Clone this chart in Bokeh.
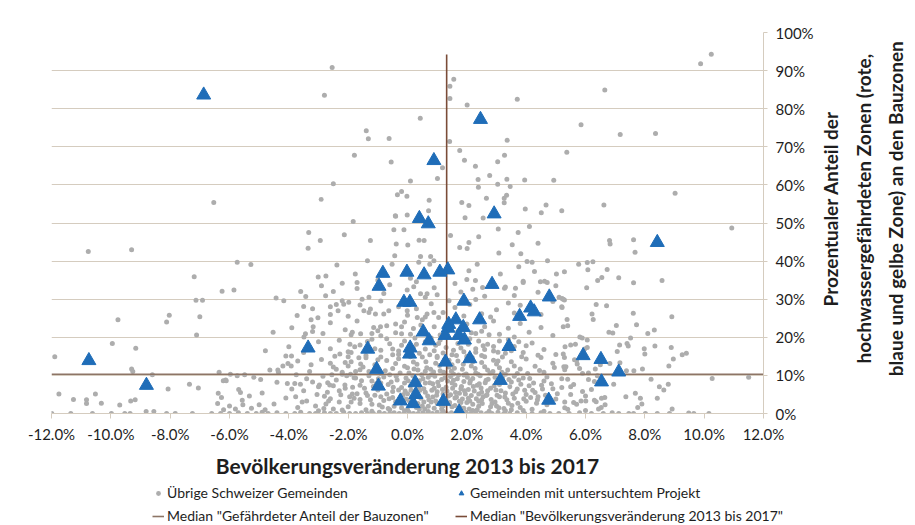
import math
from bokeh.plotting import figure
from bokeh.layouts import column, row
from bokeh.models import ColumnDataSource, Range1d, PrintfTickFormatter, FixedTicker, Legend, LegendItem, Label
from bokeh.embed import file_html
from bokeh.resources import INLINE

# ---------------- data (percent units) ----------------
x_ticks = [-12, -10, -8, -6, -4, -2, 0, 2, 4, 6, 8, 10, 12]
y_ticks = [0, 10, 20, 30, 40, 50, 60, 70, 80, 90, 100]

median_share = 10.3        # Median "Gefährdeter Anteil der Bauzonen"
median_pop = 1.32          # Median "Bevölkerungsveränderung 2013 bis 2017"
median_pop_top = 94.2

y_title_lines = ["Prozentualer Anteil der",
                 "hochwassergefährdeten Zonen (rote,",
                 "blaue und gelbe Zone) an den Bauzonen"]

# Gemeinden mit untersuchtem Projekt (x = Bevölkerungsveränderung, y = Anteil)
proj = [(-6.87, 83.6), (0.89, 66.4), (2.46, 77.2), (0.40, 51.2), (0.70, 49.8), (2.92, 52.4), (8.42, 44.9),
        (-0.83, 36.8), (-0.02, 37.1), (0.56, 36.4), (1.09, 37.1), (1.36, 37.7), (-0.96, 33.4), (2.85, 33.9),
        (-0.12, 29.2), (0.08, 29.2), (1.90, 29.5), (4.78, 30.6), (4.15, 27.7), (4.27, 26.7), (3.78, 25.5),
        (2.43, 24.6), (1.63, 24.6), (1.39, 23.4), (1.37, 22.4), (1.88, 22.6), (0.53, 21.4), (1.27, 20.5),
        (1.73, 20.5), (1.92, 19.3), (0.73, 19.1), (3.42, 17.6), (0.09, 17.2), (0.07, 15.6), (-1.34, 16.9),
        (-3.35, 17.2), (-10.74, 13.9), (-8.8, 7.4), (-1.04, 11.6), (-0.98, 7.2), (0.26, 8.1), (0.28, 5.0),
        (-0.24, 3.3), (0.19, 2.6), (2.10, 14.4), (1.28, 13.5), (5.92, 15.2), (6.52, 14.2), (7.12, 10.9),
        (3.13, 8.7), (6.54, 8.3), (4.76, 3.5), (1.21, 3.2), (1.74, 0.4)]

# Übrige Schweizer Gemeinden, grouped by region of the chart
grey_top = [(-2.54, 90.8), (-2.80, 83.5), (0.43, 77.5), (-1.39, 74.2), (-1.32, 72.1), (-0.62, 72.2), (-1.79, 67.8),
            (-0.55, 66.0), (0.10, 61.0), (1.01, 61.7), (-2.50, 60.3), (-0.34, 57.4), (-0.20, 58.3), (-0.02, 57.0),
            (-2.91, 56.2), (-6.53, 55.4), (0.73, 56.0), (0.71, 53.2), (-0.40, 51.8), (-0.01, 52.1),
            (10.24, 94.3), (9.88, 91.8), (6.65, 84.9), (1.56, 87.7), (1.43, 85.9), (1.43, 82.7), (3.70, 82.5),
            (2.01, 81.0), (5.85, 75.8), (7.17, 73.2), (8.36, 73.5), (1.42, 71.4), (3.36, 71.7), (1.76, 69.0),
            (3.27, 67.8), (1.92, 66.5), (3.04, 66.1), (5.37, 68.6), (1.18, 64.5), (2.29, 64.9), (2.77, 62.5),
            (2.38, 61.4), (3.35, 61.5), (3.95, 61.3), (4.93, 61.2), (2.39, 59.4), (3.04, 60.2), (3.46, 59.6),
            (9.02, 57.8), (1.83, 55.4), (2.07, 54.6), (2.66, 56.5), (3.34, 57.3), (3.26, 56.5), (3.26, 55.3),
            (4.67, 54.7), (6.62, 54.7), (3.97, 53.7), (4.51, 52.7), (5.20, 53.2), (1.94, 51.4), (2.55, 51.3),
            (10.93, 48.7), (6.81, 45.4), (6.83, 44.5), (7.62, 45.6), (7.67, 42.3),
            (-3.33, 47.5), (-3.35, 43.4), (-2.94, 45.4), (-2.13, 46.9), (-1.83, 50.4), (-1.25, 45.4),
            (-0.46, 48.2), (-0.12, 48.2), (-0.38, 44.5), (0.01, 44.2), (-0.41, 51.9), (0.39, 45.5), (0.56, 45.4),
            (3.06, 48.4), (3.73, 47.5), (4.11, 49.1), (1.45, 46.7), (1.76, 43.6), (2.07, 44.9), (2.01, 43.3),
            (2.40, 46.4), (3.08, 42.1), (3.53, 44.3), (3.82, 41.9), (4.40, 44.7)]

grey_mid = [(-10.76, 42.5), (-9.30, 43.0), (-5.74, 39.7), (-5.28, 39.1), (-7.19, 35.9), (-6.25, 32.1), (-5.85, 32.4),
            (-7.13, 29.7), (-6.91, 29.7), (-4.43, 30.3), (-4.17, 29.6), (-3.43, 30.7), (-3.01, 35.8), (-2.75, 36.1),
            (-2.50, 32.0), (-2.76, 30.9), (-2.38, 39.0), (-1.35, 40.1), (-1.76, 36.6), (-1.70, 34.4), (-1.53, 30.0),
            (-1.30, 30.5), (-0.52, 39.2), (-0.43, 41.4), (0.44, 41.2), (0.78, 41.2), (0.38, 39.7), (0.75, 39.2),
            (0.89, 40.1), (0.21, 33.3), (-0.01, 32.4), (0.44, 31.4), (0.66, 31.4),
            (5.77, 39.2), (6.06, 39.6), (6.25, 39.8), (5.29, 37.2), (6.08, 37.7), (6.73, 37.8), (6.55, 35.7),
            (6.41, 34.9), (7.12, 35.6), (7.62, 34.3), (8.58, 34.9), (6.04, 33.0), (5.21, 30.2), (5.29, 29.8),
            (4.72, 40.1), (4.03, 39.9), (4.20, 39.7), (3.75, 38.5), (4.28, 37.3), (5.02, 36.6), (2.35, 39.2),
            (2.07, 37.5), (3.13, 36.6), (2.29, 34.9), (2.53, 33.1), (3.27, 32.9), (3.64, 32.9), (3.90, 34.7),
            (4.48, 34.6), (4.62, 34.7), (4.71, 34.4), (5.25, 30.0), (5.11, 30.5),
            (-2.9, 33.5), (-2.2, 34.2), (-1.7, 32.8), (-0.6, 33.8), (0.3, 34.6), (0.9, 33.0), (1.6, 34.1),
            (2.2, 32.6), (3.3, 33.2), (3.9, 34.4), (4.4, 31.8), (1.0, 31.2), (0.6, 30.5), (2.6, 30.8),
            (3.6, 31.0), (-0.8, 31.5), (-3.6, 32.0), (5.0, 33.5), (1.8, 31.9), (2.0, 35.2), (-1.0, 35.0),
            (0.1, 35.5), (-3.72, 25.7), (-3.50, 28.1), (-3.25, 24.6), (-3.02, 25.1), (-3.18, 22.8)]

grey_left = [(-9.76, 24.6), (-8.03, 25.8), (-8.12, 24.0), (-7.0, 25.4), (-7.11, 20.6), (-9.95, 18.4), (-9.16, 17.1),
             (-11.89, 14.9), (-9.30, 11.7), (-9.26, 11.0), (-8.60, 10.2), (-11.75, 5.1), (-11.26, 3.7), (-10.82, 3.6),
             (-10.82, 2.6), (-10.52, 5.1), (-10.32, 2.7), (-9.70, 2.2), (-9.33, 3.3), (-9.18, 3.6), (-8.07, 6.4),
             (-8.81, 0.5), (-8.55, 0.5), (-7.35, 7.7), (-7.05, 6.7), (-11.99, 0.0), (-11.35, 0.0), (-10.62, 0.0),
             (-9.98, 0.0), (-9.53, 0.0), (-9.35, 0.0), (-8.12, 0.0), (-7.83, 0.0), (-7.25, 0.0), (-6.35, 10.8),
             (-6.21, 8.6), (-6.11, 8.6), (-6.38, 5.3), (-6.27, 4.2), (-5.97, 10.3), (-5.74, 9.9), (-5.49, 10.2),
             (-5.69, 6.3), (-5.63, 5.5), (-5.57, 3.5), (-5.33, 4.6), (-5.18, 9.5), (-4.95, 8.9), (-4.90, 5.4),
             (-5.26, 1.4), (-4.79, 16.5), (-4.53, 21.3), (-4.64, 11.4), (-4.37, 11.4), (-4.35, 10.8), (-6.13, 8.8),
             (-6.6, 0.0), (-6.3, 0.0), (-6.0, 0.0), (-5.7, 0.2), (-5.4, 0.0), (-5.1, 0.0), (-4.9, 0.3), (-6.0, 2.0),
             (-5.8, 1.2), (-6.4, 2.6), (-5.0, 2.3), (-4.8, 1.0), (-6.2, 1.0), (-5.55, 2.3)]

grey_right = [(5.21, 27.8), (6.36, 28.6), (6.71, 28.3), (6.22, 26.1), (6.26, 24.7), (7.61, 26.3), (8.91, 25.4),
              (5.38, 24.7), (5.25, 22.8), (7.04, 23.1), (7.72, 23.3), (6.79, 21.3), (6.92, 21.1), (8.32, 21.9),
              (8.10, 21.0), (5.81, 20.1), (5.89, 19.8), (6.06, 19.3), (7.52, 19.8), (5.31, 17.5), (5.66, 18.2),
              (5.97, 16.9), (6.06, 17.3), (7.15, 18.0), (7.40, 18.4), (7.44, 17.7), (7.98, 17.0), (8.34, 17.7),
              (8.89, 17.3), (8.0, 15.6), (5.25, 15.6), (5.29, 14.7), (7.07, 16.3), (9.26, 15.4), (9.40, 15.8),
              (8.96, 14.3), (5.63, 14.1), (6.82, 13.1), (7.16, 13.3), (5.27, 12.3), (5.34, 12.3), (5.72, 13.0),
              (6.33, 11.7), (8.81, 12.5), (7.92, 11.7), (7.38, 11.2), (7.63, 11.2), (10.27, 9.2), (11.5, 9.5),
              (8.21, 9.0), (8.49, 7.0), (8.64, 6.2), (8.79, 7.7), (8.42, 4.0), (8.92, 1.2), (7.36, 4.4),
              (7.68, 5.3), (7.85, 4.0), (7.90, 2.5), (7.76, 1.6), (6.95, 7.7), (6.54, 4.0), (6.65, 4.2),
              (6.66, 2.3), (6.53, 1.6), (6.44, 1.2), (5.85, 3.3), (6.01, 3.3), (6.30, 3.5), (6.36, 3.1),
              (9.48, 0.1), (9.65, 0.0), (10.16, 0.0), (7.12, 0.0), (7.46, 0.0), (8.42, 0.0), (8.83, 0.0),
              (7.62, 0.0), (8.02, 0.0), (6.6, 0.0), (6.9, 0.2), (5.4, 9.0), (5.6, 7.6), (5.9, 10.5), (6.1, 8.9),
              (5.5, 5.0), (5.7, 2.4), (6.2, 6.3), (5.3, 3.0), (6.4, 9.9), (5.8, 11.8), (6.5, 12.8), (5.2, 6.8),
              (6.0, 0.8), (5.4, 1.1)]

grey_core_upper = [(-3.2, 27.5), (-2.6, 26.0), (-2.0, 25.5), (-1.6, 28.5), (-0.9, 29.5), (-0.3, 28.0), (0.3, 27.5),
                   (0.8, 28.8), (1.2, 26.5), (1.6, 27.8), (2.1, 28.6), (2.5, 26.2), (3.0, 27.2), (3.4, 29.0),
                   (3.8, 28.4), (4.5, 26.0), (5.2, 28.0), (2.8, 25.3), (0.0, 25.8), (-1.3, 26.5), (1.4, 29.6),
                   (2.3, 29.9), (3.6, 26.4), (4.9, 29.4), (-2.4, 28.6), (0.6, 25.3), (1.9, 25.6),
                   (-3.9, 22.5), (-3.2, 21.5), (-2.6, 23.8), (-2.1, 22.0), (-1.7, 24.3), (-1.2, 21.0), (-0.7, 23.0),
                   (-0.4, 21.2), (-0.1, 24.0), (0.2, 22.3), (0.5, 24.6), (0.9, 22.8), (1.1, 20.6), (1.5, 24.0),
                   (1.7, 21.6), (2.0, 23.5), (2.3, 21.0), (2.6, 22.8), (2.9, 24.3), (3.1, 20.8), (3.4, 22.4),
                   (3.8, 23.6), (4.1, 21.3), (4.5, 22.6), (4.9, 20.5), (5.4, 23.0), (0.7, 20.3), (-0.9, 20.4),
                   (1.3, 23.0), (2.4, 24.8), (-1.9, 20.7), (3.6, 20.1), (0.1, 20.8), (1.9, 20.1),
                   (-4.0, 17.5), (-3.5, 16.0), (-3.0, 18.8), (-2.6, 17.0), (-2.3, 19.2), (-2.0, 16.2), (-1.6, 18.0),
                   (-1.2, 19.5), (-0.9, 16.6), (-0.6, 18.3), (-0.3, 15.5), (-0.1, 19.0), (0.2, 17.2), (0.4, 15.8),
                   (0.6, 18.8), (0.9, 16.5), (1.1, 19.3), (1.3, 17.3), (1.5, 15.4), (1.7, 18.4), (1.9, 16.2),
                   (2.1, 19.6), (2.3, 17.0), (2.5, 15.2), (2.7, 18.2), (2.9, 16.4), (3.1, 19.0), (3.3, 15.8),
                   (3.6, 17.6), (3.9, 16.0), (4.2, 18.5), (4.6, 16.8), (5.0, 15.5), (5.5, 18.0), (-1.4, 15.2),
                   (0.0, 16.0), (0.8, 19.8), (1.6, 19.9), (2.4, 19.0), (2.0, 15.0), (3.4, 19.4), (4.4, 15.3),
                   (-0.5, 16.9), (1.0, 15.0), (-3.44, 20.9), (-3.49, 20.1), (-2.85, 21.0), (-2.45, 15.0),
                   (-2.28, 15.6), (-1.94, 18.2), (-1.78, 17.5), (-1.86, 21.3), (-1.58, 20.9), (-1.14, 22.6),
                   (-1.47, 27.0), (-1.25, 27.4), (-1.08, 26.1), (-0.80, 26.1), (-0.63, 27.0), (-0.40, 23.5),
                   (-0.20, 22.8), (-0.91, 22.8), (-1.0, 21.7), (0.66, 26.1), (0.89, 26.5), (1.05, 25.2),
                   (0.33, 25.2), (-0.01, 27.0), (-2.60, 28.0), (-2.34, 27.0), (-2.15, 28.7), (-2.20, 29.6),
                   (-1.98, 29.2), (-4.10, 15.1), (-3.91, 15.1), (-1.64, 14.6), (-1.58, 13.0)]

grey_core_lower = [(-4.2, 12.5), (-3.7, 13.8), (-3.3, 11.0), (-2.9, 14.2), (-2.5, 12.2), (-2.2, 10.8), (-1.9, 13.6),
                   (-1.6, 11.5), (-1.4, 14.6), (-1.1, 12.8), (-0.9, 10.5), (-0.7, 13.9), (-0.5, 11.8), (-0.3, 14.4),
                   (-0.1, 12.4), (0.05, 10.6), (0.2, 13.5), (0.35, 11.4), (0.5, 14.8), (0.65, 12.0), (0.8, 10.2),
                   (0.95, 13.2), (1.1, 11.2), (1.25, 14.2), (1.4, 12.2), (1.55, 10.4), (1.7, 13.8), (1.85, 11.6),
                   (2.0, 14.4), (2.15, 12.5), (2.3, 10.6), (2.5, 13.4), (2.7, 11.4), (2.9, 14.0), (3.1, 12.0),
                   (3.3, 10.3), (3.5, 13.6), (3.8, 11.7), (4.0, 14.3), (4.3, 12.4), (4.6, 10.8), (4.9, 13.2),
                   (5.3, 11.5), (5.7, 13.9), (6.1, 10.6), (0.1, 14.9), (1.0, 14.7), (1.9, 10.1), (2.6, 14.9),
                   (-0.6, 10.2), (0.6, 11.1), (1.5, 12.8), (2.2, 13.6), (3.0, 13.0), (-1.3, 11.0), (-2.0, 12.5),
                   (3.7, 10.5), (4.5, 14.7), (-2.60, 13.2), (-2.10, 13.4), (-2.20, 10.3), (-1.92, 10.3),
                   (-1.75, 9.3), (-4.03, 13.1), (-3.92, 12.5),
                   (-4.4, 8.2), (-3.9, 6.4), (-3.4, 9.1), (-3.0, 7.0), (-2.7, 5.6), (-2.4, 8.8), (-2.1, 6.6),
                   (-1.8, 9.4), (-1.6, 7.4), (-1.4, 5.4), (-1.2, 8.5), (-1.0, 6.2), (-0.8, 9.6), (-0.65, 7.6),
                   (-0.5, 5.8), (-0.35, 8.8), (-0.2, 6.8), (-0.05, 9.3), (0.1, 7.2), (0.25, 5.5), (0.4, 8.6),
                   (0.55, 6.5), (0.7, 9.5), (0.85, 7.8), (1.0, 5.7), (1.15, 8.9), (1.3, 6.9), (1.45, 9.7),
                   (1.6, 7.5), (1.75, 5.3), (1.9, 8.4), (2.05, 6.3), (2.2, 9.2), (2.35, 7.4), (2.5, 5.6),
                   (2.65, 8.7), (2.8, 6.6), (2.95, 9.5), (3.1, 7.6), (3.3, 5.4), (3.5, 8.3), (3.7, 6.4),
                   (3.9, 9.3), (4.1, 7.3), (4.3, 5.5), (4.6, 8.5), (4.9, 6.5), (5.2, 9.1), (5.5, 7.0), (5.9, 5.8),
                   (6.3, 8.4), (-0.9, 8.0), (0.0, 5.2), (0.6, 8.0), (1.2, 5.1), (1.8, 6.5), (2.4, 5.1), (3.0, 8.2),
                   (3.6, 9.8), (4.0, 5.0), (-1.7, 5.2), (-2.5, 7.3), (0.9, 6.6), (1.5, 8.0), (2.1, 8.0),
                   (-4.05, 7.9), (-3.80, 7.9), (-3.61, 7.7), (-2.69, 8.1), (-2.97, 7.5), (-2.62, 7.5),
                   (-2.11, 7.5), (-1.86, 5.1), (-3.77, 4.4), (-2.66, 3.3), (-2.82, 1.3)]

grey_core_fill = [(-1.45, 6.6), (-1.3, 9.9), (-1.2, 2.4), (-1.05, 7.9), (-0.9, 4.4), (-0.75, 11.2), (-0.7, 5.1),
                  (-0.55, 8.3), (-0.45, 1.9), (-0.4, 13.1), (-0.3, 6.2), (-0.25, 10.6), (-0.15, 4.9), (-0.1, 8.0),
                  (0.0, 12.0), (0.05, 3.4), (0.12, 6.1), (0.18, 9.9), (0.3, 1.6), (0.32, 12.9), (0.38, 7.0),
                  (0.45, 4.0), (0.48, 10.2), (0.6, 5.6), (0.62, 13.6), (0.72, 3.6), (0.75, 8.1), (0.78, 11.6),
                  (0.9, 1.4), (0.92, 9.8), (0.98, 4.8), (1.05, 7.3), (1.08, 12.6), (1.2, 3.9), (1.22, 10.8),
                  (1.33, 5.9), (1.35, 8.5), (1.4, 14.0), (1.5, 1.8), (1.52, 6.6), (1.58, 11.9), (1.65, 4.3),
                  (1.68, 9.1), (1.8, 2.9), (1.82, 7.1), (1.88, 12.9), (1.95, 5.1), (1.98, 10.4), (2.1, 3.3),
                  (2.12, 8.6), (2.18, 14.7), (2.25, 5.9), (2.28, 11.8), (2.4, 1.9), (2.42, 7.8), (2.45, 9.9),
                  (2.55, 4.4), (2.6, 12.3), (2.7, 6.0), (2.72, 9.0), (2.85, 2.6), (2.88, 11.0), (2.92, 7.3),
                  (3.02, 4.8), (3.05, 13.8), (3.15, 6.0), (3.2, 9.4), (3.35, 3.6), (3.38, 11.4), (3.45, 7.0),
                  (3.55, 5.1), (3.6, 12.5), (3.72, 2.7), (3.75, 8.8), (3.85, 14.9), (3.95, 6.1), (4.05, 10.5),
                  (4.15, 4.2), (4.25, 8.0), (4.35, 2.7), (4.45, 11.3), (4.55, 6.4), (4.7, 9.6), (4.8, 3.9),
                  (4.95, 12.1), (5.05, 5.2), (-1.6, 3.7), (-1.85, 6.9), (-2.05, 9.9), (-2.25, 4.9), (-2.4, 11.6),
                  (-2.6, 3.9), (-2.85, 9.8), (-3.05, 5.0), (-3.25, 12.8), (-3.5, 6.0), (-3.75, 10.2), (-2.0, 14.9),
                  (-1.5, 12.2), (-1.0, 14.1), (-0.5, 15.4), (0.3, 18.2), (0.6, 16.9), (1.2, 15.9), (1.8, 17.2),
                  (2.3, 16.1), (2.9, 17.6), (3.5, 16.5), (4.0, 17.8), (-0.2, 17.9), (-1.1, 17.0), (-1.9, 16.0),
                  (0.95, 17.9), (1.55, 16.6), (2.6, 16.8), (3.2, 14.8), (0.25, 19.8), (1.35, 21.5), (2.15, 21.2),
                  (2.75, 20.7), (0.45, 23.2), (-0.2, 20.9), (-0.7, 19.6), (1.2, 0.6), (2.2, 0.8), (3.3, 0.7),
                  (-0.1, 0.7), (-1.2, 0.6), (0.7, 0.5), (1.7, 0.9), (2.75, 0.6), (3.9, 0.8), (4.6, 0.6), (-2.2, 0.9),
                  (-3.0, 0.7), (-0.6, 1.0)]

grey_core_dense = [(-1.35, 4.7), (-1.15, 7.1), (-0.98, 9.1), (-0.85, 1.7), (-0.62, 3.9), (-0.48, 6.9), (-0.38, 9.8),
                   (-0.22, 3.0), (-0.08, 5.9), (0.02, 8.6), (0.15, 4.3), (0.22, 11.7), (0.35, 2.6), (0.42, 6.1),
                   (0.52, 9.1), (0.58, 1.2), (0.68, 4.6), (0.82, 6.1), (0.88, 10.9), (0.95, 3.3), (1.02, 8.2),
                   (1.12, 2.3), (1.18, 6.3), (1.26, 9.4), (1.38, 4.6), (1.42, 2.9), (1.48, 11.1), (1.55, 8.7),
                   (1.62, 5.5), (1.72, 10.1), (1.78, 1.6), (1.85, 3.8), (1.92, 6.0), (2.02, 9.5), (2.08, 1.2),
                   (2.15, 4.7), (2.22, 7.1), (2.32, 3.9), (2.38, 10.3), (2.48, 6.7), (2.52, 2.6), (2.62, 8.1),
                   (2.68, 4.9), (2.78, 10.6), (2.82, 3.7), (2.98, 6.2), (3.08, 1.5), (3.18, 10.8), (3.28, 4.3),
                   (3.42, 8.9), (3.52, 2.1), (3.65, 5.7), (3.82, 7.7), (3.92, 3.9), (4.12, 9.2), (4.22, 6.1),
                   (4.38, 3.6), (4.52, 7.4), (4.65, 4.8), (4.85, 7.8), (-1.75, 11.0), (-1.55, 8.6), (-1.95, 4.4),
                   (-2.3, 6.0), (-2.55, 10.2), (-2.75, 2.5), (-3.2, 8.3), (-3.55, 3.0), (-0.3, 16.4),
                   (0.75, 15.4), (1.65, 15.2), (2.55, 17.8), (3.05, 16.1), (-0.9, 14.8), (0.15, 16.8),
                   (1.05, 18.4), (2.05, 18.2), (3.75, 18.8), (-1.35, 18.9), (0.5, 21.5), (2.5, 21.6)]

grey_base = [(-4.5, 2.5), (-4.1, 4.1), (-3.7, 1.6), (-3.4, 3.3), (-3.1, 2.0), (-2.8, 4.5), (-2.5, 1.2), (-2.3, 3.0),
             (-2.0, 1.8), (-1.8, 4.0), (-1.6, 2.6), (-1.4, 1.0), (-1.25, 3.6), (-1.1, 4.8), (-0.95, 2.2),
             (-0.8, 3.4), (-0.65, 1.3), (-0.5, 4.2), (-0.35, 2.8), (-0.2, 1.5), (-0.05, 3.8), (0.1, 2.2),
             (0.25, 4.6), (0.4, 1.1), (0.55, 3.0), (0.7, 1.9), (0.85, 4.3), (1.0, 2.6), (1.15, 1.2), (1.3, 3.5),
             (1.45, 4.9), (1.6, 2.1), (1.75, 3.2), (1.9, 1.4), (2.05, 4.0), (2.2, 2.4), (2.35, 1.0), (2.5, 3.6),
             (2.65, 4.7), (2.8, 1.8), (2.95, 3.0), (3.1, 4.4), (3.25, 1.3), (3.4, 2.7), (3.6, 4.0), (3.8, 1.6),
             (4.0, 3.2), (4.2, 1.1), (4.4, 4.4), (4.7, 2.3), (5.0, 3.8), (5.3, 1.5), (5.6, 2.9), (6.0, 4.6),
             (0.0, 1.0), (0.8, 3.0), (1.6, 4.1), (2.4, 3.2), (3.0, 2.0), (-0.4, 3.1), (-1.9, 3.0), (1.2, 2.0),
             (2.0, 2.9), (3.5, 1.0), (0.5, 2.0),
             (-4.7, 0.0), (-4.4, 0.2), (-4.1, 0.0), (-3.8, 0.0), (-3.6, 0.3), (-3.3, 0.0), (-3.1, 0.0), (-2.8, 0.2),
             (-2.6, 0.0), (-2.4, 0.0), (-2.15, 0.3), (-1.95, 0.0), (-1.75, 0.0), (-1.55, 0.2), (-1.35, 0.0),
             (-1.15, 0.0), (-0.95, 0.3), (-0.78, 0.0), (-0.6, 0.0), (-0.45, 0.2), (-0.28, 0.0), (-0.12, 0.0),
             (0.05, 0.3), (0.2, 0.0), (0.36, 0.0), (0.52, 0.2), (0.68, 0.0), (0.84, 0.0), (1.0, 0.3), (1.16, 0.0),
             (1.32, 0.0), (1.48, 0.2), (1.64, 0.0), (1.8, 0.0), (1.96, 0.3), (2.12, 0.0), (2.3, 0.0), (2.48, 0.2),
             (2.66, 0.0), (2.85, 0.0), (3.05, 0.3), (3.25, 0.0), (3.45, 0.0), (3.7, 0.2), (3.95, 0.0), (4.2, 0.0),
             (4.5, 0.2), (4.8, 0.0), (5.1, 0.0), (5.45, 0.0), (5.8, 0.2), (6.2, 0.0)]

# ---------------- sources ----------------
grey_all = (grey_top + grey_mid + grey_left + grey_right + grey_core_upper + grey_core_lower
            + grey_core_fill + grey_core_dense + grey_base)
grey_src = ColumnDataSource(dict(x=[q[0] for q in grey_all], y=[q[1] for q in grey_all]))
proj_src = ColumnDataSource(dict(x=[q[0] for q in proj], y=[q[1] for q in proj]))

FONT = "Lato"
TXT = "#1e1e1e"
GRID = "#d5ccbf"
GREY = "#adadad"
BLUE = "#1f6db8"
MED_H = "#8d7566"
MED_V = "#7a4c38"

# ---------------- main chart ----------------
p = figure(width=820, height=480, output_backend="svg", toolbar_location=None,
           x_range=Range1d(-12, 12), y_range=Range1d(0, 100),
           x_axis_location="below", y_axis_location="right",
           min_border_left=51, min_border_right=57, min_border_top=32, min_border_bottom=67)
p.outline_line_color = None
p.background_fill_color = "white"
p.border_fill_color = "white"

xa = p.xaxis[0]
xa.ticker = FixedTicker(ticks=x_ticks)
xa.formatter = PrintfTickFormatter(format="%.1f%%")
xa.axis_line_color = GRID
xa.major_tick_line_color = GRID
xa.major_tick_out = 5
xa.major_tick_in = 0
xa.minor_tick_line_color = None
xa.major_label_text_font = FONT
xa.major_label_text_font_size = "15px"
xa.major_label_text_color = TXT
xa.major_label_standoff = 6
xa.axis_label = "Bevölkerungsveränderung 2013 bis 2017"
xa.axis_label_text_font = FONT
xa.axis_label_text_font_style = "bold"
xa.axis_label_text_font_size = "21px"
xa.axis_label_text_color = TXT
xa.axis_label_standoff = 7

ya = p.yaxis[0]
ya.ticker = FixedTicker(ticks=y_ticks)
ya.formatter = PrintfTickFormatter(format="%d%%")
ya.axis_line_color = GRID
ya.major_tick_line_color = GRID
ya.major_tick_out = 4
ya.major_tick_in = 0
ya.minor_tick_line_color = None
ya.major_label_text_font = FONT
ya.major_label_text_font_size = "15px"
ya.major_label_text_color = TXT
ya.major_label_standoff = 8

p.xgrid.visible = False
p.ygrid.grid_line_color = GRID
p.ygrid.grid_line_width = 1

p.scatter("x", "y", source=grey_src, marker="circle", size=5, fill_color=GREY, line_color=None)
p.line(x=[-12, 12], y=[median_share, median_share], line_color=MED_H, line_width=1.6)
p.line(x=[median_pop, median_pop], y=[0, median_pop_top], line_color=MED_V, line_width=1.6)
p.scatter("x", "y", source=proj_src, marker="triangle", size=14, fill_color=BLUE, line_color=BLUE)

# ---------------- right-hand axis title (rotated, reads bottom to top) ----------------
pr = figure(width=94, height=480, output_backend="svg", toolbar_location=None,
            x_range=Range1d(0, 94), y_range=Range1d(0, 480), x_axis_type=None, y_axis_type=None,
            min_border_left=0, min_border_right=0, min_border_top=0, min_border_bottom=0)
pr.outline_line_color = None
pr.xgrid.visible = False
pr.ygrid.visible = False
for i, txt in enumerate(y_title_lines):
    pr.add_layout(Label(x=10 + 32.5 * i, y=258, text=txt, angle=math.pi / 2,
                        text_align="center", text_baseline="middle",
                        text_font=FONT, text_font_style="bold", text_font_size="19px",
                        text_color=TXT))

# ---------------- legend strip (style-only proxy renderers, nothing drawn) ----------------
pl = figure(width=914, height=44, output_backend="svg", toolbar_location=None,
            x_range=Range1d(0, 1), y_range=Range1d(0, 1), x_axis_type=None, y_axis_type=None,
            min_border_left=0, min_border_right=0, min_border_top=0, min_border_bottom=0)
pl.outline_line_color = None
pl.xgrid.visible = False
pl.ygrid.visible = False
nan = float("nan")
proxy = lambda: ColumnDataSource(dict(x=[nan], y=[nan]))
l_grey = pl.scatter("x", "y", source=proxy(), marker="circle", size=5, fill_color=GREY, line_color=None)
l_proj = pl.scatter("x", "y", source=proxy(), marker="triangle", size=9, fill_color=BLUE, line_color=BLUE)
l_mh = pl.line("x", "y", source=proxy(), line_color=MED_H, line_width=1.6)
l_mv = pl.line("x", "y", source=proxy(), line_color=MED_V, line_width=1.6)

legend = Legend(items=[
    LegendItem(label="Übrige Schweizer Gemeinden", renderers=[l_grey]),
    LegendItem(label='Median "Gefährdeter Anteil der Bauzonen"', renderers=[l_mh]),
    LegendItem(label="Gemeinden mit untersuchtem Projekt", renderers=[l_proj]),
    LegendItem(label='Median "Bevölkerungsveränderung 2013 bis 2017"', renderers=[l_mv]),
], location=(152, 0), orientation="vertical", ncols=2)
legend.label_text_font = FONT
legend.label_text_font_size = "14px"
legend.label_text_color = TXT
legend.glyph_width = 12
legend.glyph_height = 14
legend.label_standoff = 3
legend.label_height = 14
legend.label_width = 282
legend.spacing = 6
legend.padding = 0
legend.margin = 0
legend.border_line_color = None
legend.background_fill_alpha = 0
pl.add_layout(legend, "center")

layout = column(row(p, pr, spacing=0), pl, spacing=0)
open("out.html", "w").write(file_html(layout, INLINE))
